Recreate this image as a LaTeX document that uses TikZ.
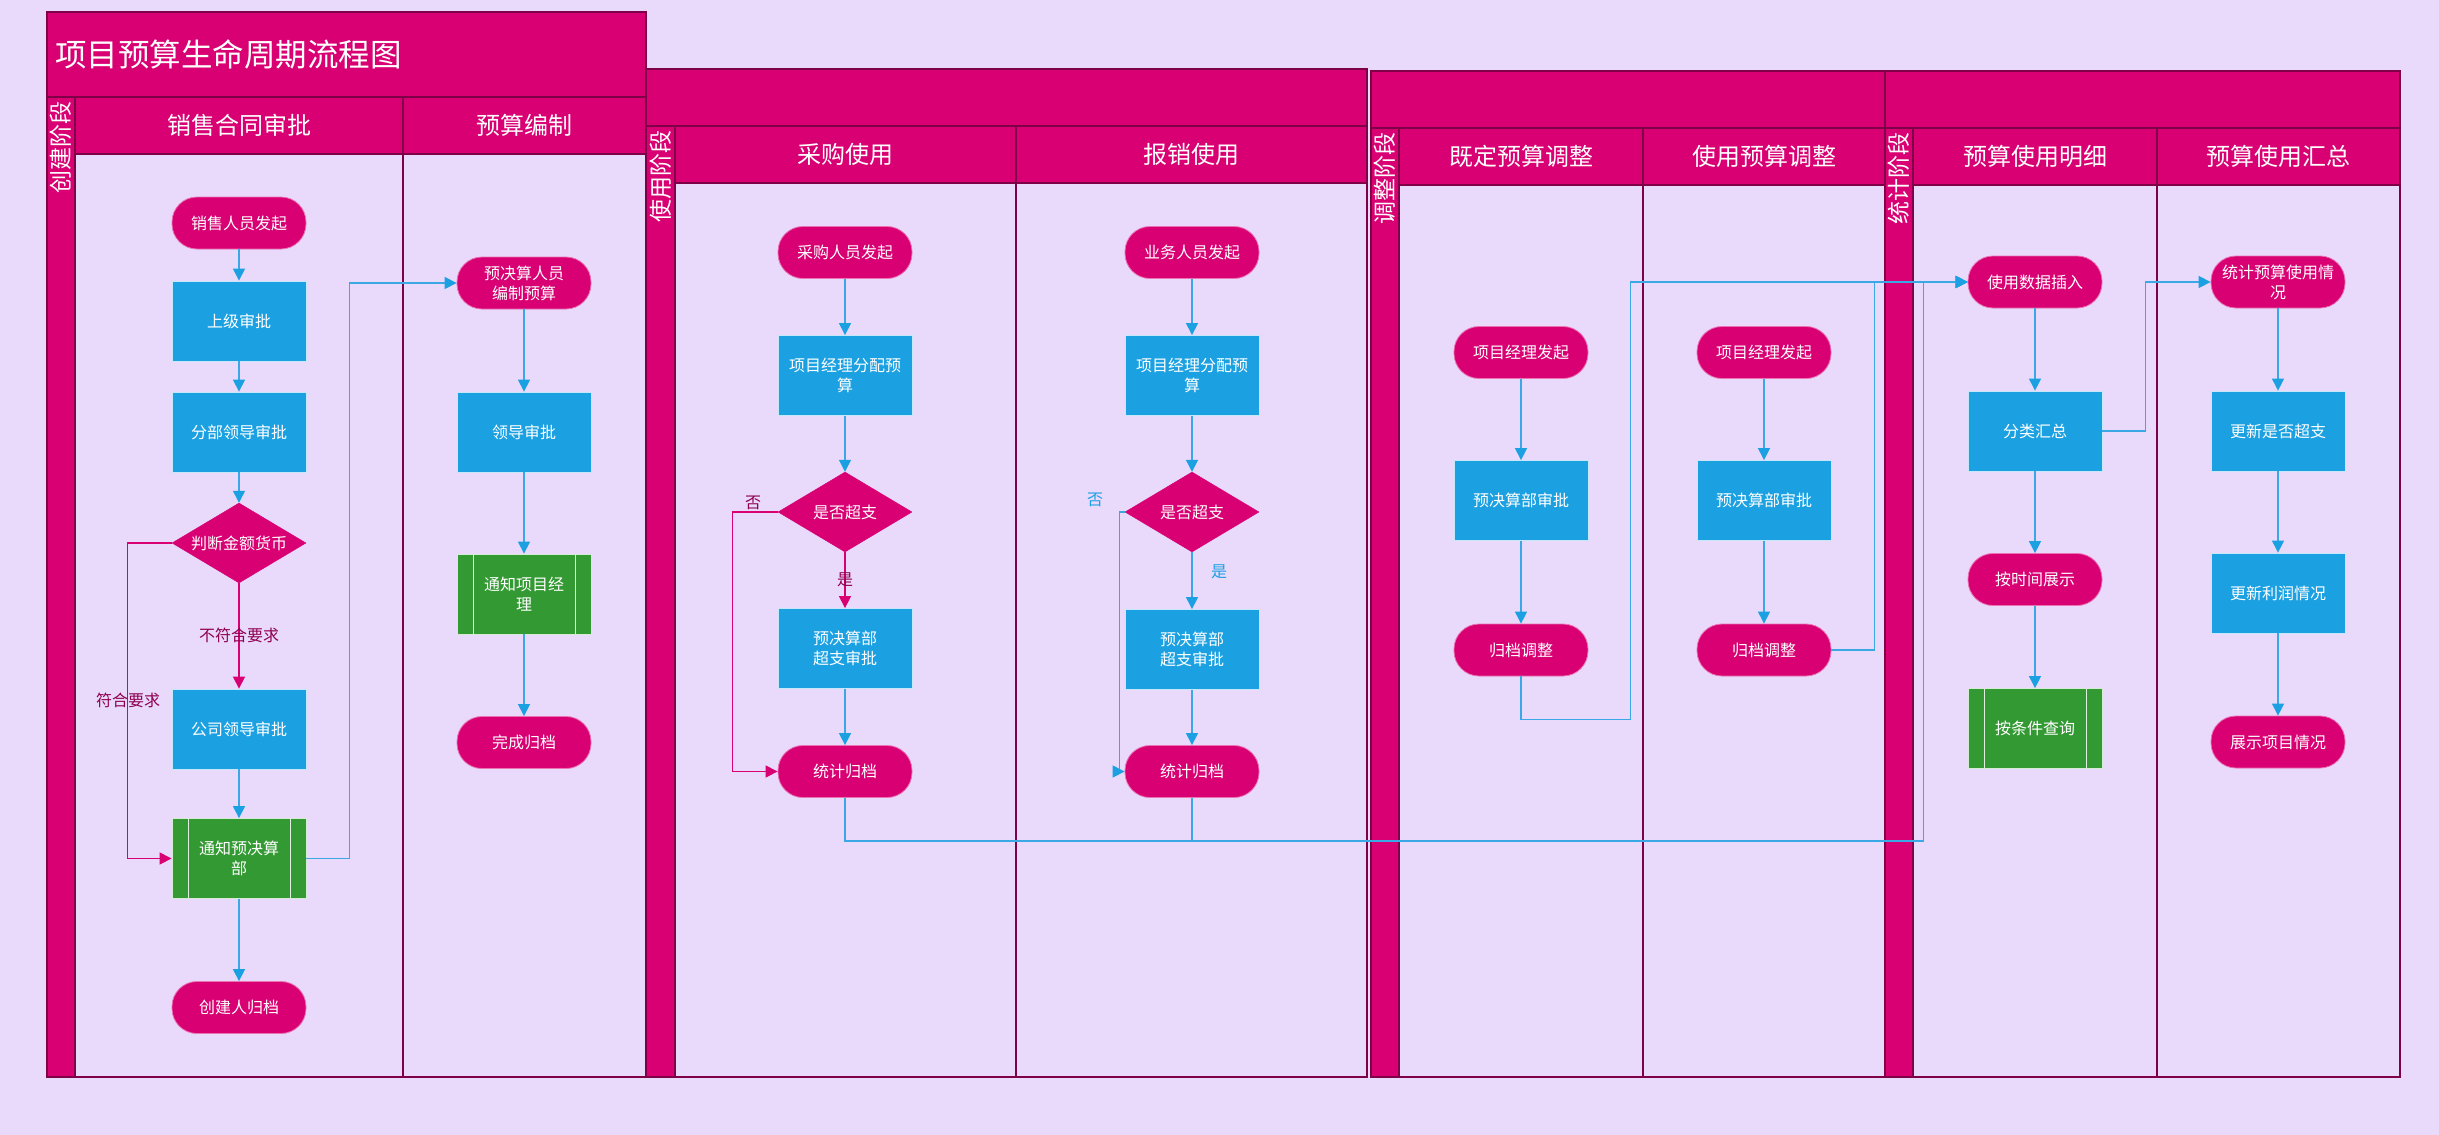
\documentclass[tikz,border=0pt]{standalone}
\usepackage{fontspec}
\setmainfont{Noto Sans CJK SC}
\usetikzlibrary{shapes.geometric,arrows.meta}
\definecolor{bg}{HTML}{E9D9FB}
\definecolor{mag}{HTML}{D80073}
\definecolor{magd}{HTML}{7E0046}
\definecolor{bluef}{HTML}{1BA1E2}
\definecolor{bluel}{HTML}{3AA8E4}
\definecolor{greenf}{HTML}{339933}
\definecolor{lbl}{HTML}{8E0050}
\begin{document}
\begin{tikzpicture}[x=1pt,y=-1pt,
  nfont/.style={font=\fontsize{16}{20}\selectfont},
  term/.style={rectangle, rounded corners=25pt, fill=mag, draw=mag!55!white, line width=0.8pt,
    minimum width=134pt, minimum height=52pt, text=white, nfont, align=center, inner sep=0pt},
  proc/.style={rectangle, fill=bluef, draw=bluef!25!white, line width=0.8pt,
    minimum width=134pt, minimum height=80pt, text=white, nfont, align=center, inner sep=0pt},
  sub/.style={proc, fill=greenf, draw=greenf!20!white,
    path picture={\draw[greenf!15!white, line width=0.8pt]
      ([xshift=16pt]path picture bounding box.north west) -- ([xshift=16pt]path picture bounding box.south west)
      ([xshift=-16pt]path picture bounding box.north east) -- ([xshift=-16pt]path picture bounding box.south east);}},
  dec/.style={diamond, aspect=1.675, fill=mag, draw=mag, minimum width=134pt, minimum height=80pt,
    inner sep=0pt, text=white, nfont, align=center},
  poolline/.style={draw=magd, line width=1.2pt},
  hdr/.style={poolline, fill=mag},
  lanetitle/.style={text=white, font=\fontsize{24}{28}\selectfont, inner sep=0pt},
  phasetitle/.style={text=white, font=\fontsize{23}{28}\selectfont, inner sep=0pt, rotate=90, anchor=east},
  bl/.style={draw=bluel, line width=1.2pt, -{Triangle[length=12pt,width=12pt,color=bluef]}},
  ml/.style={draw=mag, line width=1.2pt, -{Triangle[length=12pt,width=12pt]}},
  lab/.style={nfont, inner sep=1pt, text=lbl},
  labb/.style={nfont, inner sep=1pt, text=bluef}
]
\useasboundingbox (0,0) rectangle (2439,1135);
\fill[bg] (0,0) rectangle (2439,1135);

% ---------- Pool 1 ----------
\draw[poolline, fill=bg] (47,12) rectangle (646,1077);
\draw[hdr] (47,12) rectangle (646,97);
\draw[hdr] (47,97) rectangle (75,1077);
\draw[hdr] (75,97) rectangle (403,154);
\draw[hdr] (403,97) rectangle (646,154);
\draw[poolline] (403,154) -- (403,1077);
\node[text=white, font=\fontsize{31.5}{36}\selectfont, anchor=west, inner sep=0pt] (title) at (55,54) {项目预算生命周期流程图};
\node[phasetitle] (ph1) at (61,101) {创建阶段};
\node[lanetitle] (l1) at (239,125.5) {销售合同审批};
\node[lanetitle] (l2) at (524.5,125.5) {预算编制};

% ---------- Pool 2 ----------
\draw[poolline, fill=bg] (646,69) rectangle (1367,1077);
\draw[hdr] (646,69) rectangle (1367,126);
\draw[hdr] (646,126) rectangle (675,1077);
\draw[hdr] (675,126) rectangle (1016,183);
\draw[hdr] (1016,126) rectangle (1367,183);
\draw[poolline] (1016,183) -- (1016,1077);
\node[phasetitle] (ph2) at (660.5,130) {使用阶段};
\node[lanetitle] (l3) at (845.5,154.5) {采购使用};
\node[lanetitle] (l4) at (1191.5,154.5) {报销使用};

% ---------- Pool 3 ----------
\draw[poolline, fill=bg] (1371,71) rectangle (1885,1077);
\draw[hdr] (1371,71) rectangle (1885,128);
\draw[hdr] (1371,128) rectangle (1399,1077);
\draw[hdr] (1399,128) rectangle (1643,185);
\draw[hdr] (1643,128) rectangle (1885,185);
\draw[poolline] (1643,185) -- (1643,1077);
\node[phasetitle] (ph3) at (1385,132) {调整阶段};
\node[lanetitle] (l5) at (1521,156.5) {既定预算调整};
\node[lanetitle] (l6) at (1764,156.5) {使用预算调整};

% ---------- Pool 4 ----------
\draw[poolline, fill=bg] (1885,71) rectangle (2400,1077);
\draw[hdr] (1885,71) rectangle (2400,128);
\draw[hdr] (1885,128) rectangle (1913,1077);
\draw[hdr] (1913,128) rectangle (2157,185);
\draw[hdr] (2157,128) rectangle (2400,185);
\draw[poolline] (2157,185) -- (2157,1077);
\node[phasetitle] (ph4) at (1899,132) {统计阶段};
\node[lanetitle] (l7) at (2035,156.5) {预算使用明细};
\node[lanetitle] (l8) at (2278.5,156.5) {预算使用汇总};

% ---------- Nodes ----------
\node[term] (a1) at (239,223) {销售人员发起};
\node[proc] (a2) at (239,321) {上级审批};
\node[proc] (a3) at (239,432) {分部领导审批};
\node[dec]  (a4) at (239,543) {判断金额货币};
\node[proc] (a5) at (239,729) {公司领导审批};
\node[sub]  (a6) at (239,858.5) {通知预决算\\部};
\node[term] (a7) at (239,1007.5) {创建人归档};

\node[term] (b1) at (524,283) {预决算人员\\编制预算};
\node[proc] (b2) at (524,432) {领导审批};
\node[sub]  (b3) at (524,594) {通知项目经\\理};
\node[term] (b4) at (524,742.5) {完成归档};

\node[term] (c1) at (845,252.5) {采购人员发起};
\node[proc] (c2) at (845,375.5) {项目经理分配预\\算};
\node[dec]  (c3) at (845,512) {是否超支};
\node[proc] (c4) at (845,648.5) {预决算部\\超支审批};
\node[term] (c5) at (845,771.5) {统计归档};

\node[term] (d1) at (1192,252.5) {业务人员发起};
\node[proc] (d2) at (1192,375.5) {项目经理分配预\\算};
\node[dec]  (d3) at (1192,512) {是否超支};
\node[proc] (d4) at (1192,649.5) {预决算部\\超支审批};
\node[term] (d5) at (1192,771.5) {统计归档};

\node[term] (e1) at (1521,352.5) {项目经理发起};
\node[proc] (e2) at (1521,500.5) {预决算部审批};
\node[term] (e3) at (1521,650) {归档调整};

\node[term] (f1) at (1764,352.5) {项目经理发起};
\node[proc] (f2) at (1764,500.5) {预决算部审批};
\node[term] (f3) at (1764,650) {归档调整};

\node[term] (g1) at (2035,282) {使用数据插入};
\node[proc] (g2) at (2035,431) {分类汇总};
\node[term] (g3) at (2035,579.5) {按时间展示};
\node[sub]  (g4) at (2035,728.5) {按条件查询};

\node[term] (h1) at (2278,282) {统计预算使用情\\况};
\node[proc] (h2) at (2278,431) {更新是否超支};
\node[proc] (h3) at (2278,593) {更新利润情况};
\node[term] (h4) at (2278,742) {展示项目情况};

% ---------- Connectors ----------
\draw[bl] (a1) -- (a2);
\draw[bl] (a2) -- (a3);
\draw[bl] (a3) -- (a4);
\draw[ml] (a4) -- (a5);
\draw[ml] (a4.west) -- ++(-44,0) |- (a6.west);
\draw[bl] (a5) -- (a6);
\draw[bl] (a6) -- (a7);
\draw[bl] (a6.east) -- ++(43,0) |- (b1.west);

\draw[bl] (b1) -- (b2);
\draw[bl] (b2) -- (b3);
\draw[bl] (b3) -- (b4);

\draw[bl] (c1) -- (c2);
\draw[bl] (c2) -- (c3);
\draw[ml] (c3) -- (c4);
\draw[ml] (c3.west) -- ++(-45,0) |- (c5.west);
\draw[bl] (c4) -- (c5);
\draw[bl] (c5.south) -- ++(0,43) -| ([xshift=-44pt]g1.west) -- (g1.west);

\draw[bl] (d1) -- (d2);
\draw[bl] (d2) -- (d3);
\draw[bl] (d3) -- (d4);
\draw[bl] (d3.west) -- ++(-5,0) |- (d5.west);
\draw[bl] (d4) -- (d5);
\draw[bl] (d5.south) -- ++(0,43) -| ([xshift=-44pt]g1.west) -- (g1.west);

\draw[bl] (e1) -- (e2);
\draw[bl] (e2) -- (e3);
\draw[bl] (e3.south) -- ++(0,43) -| ([xshift=-337pt]g1.west) -- (g1.west);

\draw[bl] (f1) -- (f2);
\draw[bl] (f2) -- (f3);
\draw[bl] (f3.east) -- ++(43,0) |- (g1.west);

\draw[bl] (g1) -- (g2);
\draw[bl] (g2) -- (g3);
\draw[bl] (g3) -- (g4);
\draw[bl] (g2.east) -- ++(43,0) |- (h1.west);

\draw[bl] (h1) -- (h2);
\draw[bl] (h2) -- (h3);
\draw[bl] (h3) -- (h4);

% ---------- Labels ----------
\node[lab]  (t1) at (239,635) {不符合要求};
\node[lab]  (t2) at (128,700) {符合要求};
\node[lab]  (t3) at (753,503) {否};
\node[lab]  (t4) at (845,580) {是};
\node[labb] (t5) at (1095,500) {否};
\node[labb] (t6) at (1219,572) {是};
\end{tikzpicture}
\end{document}
